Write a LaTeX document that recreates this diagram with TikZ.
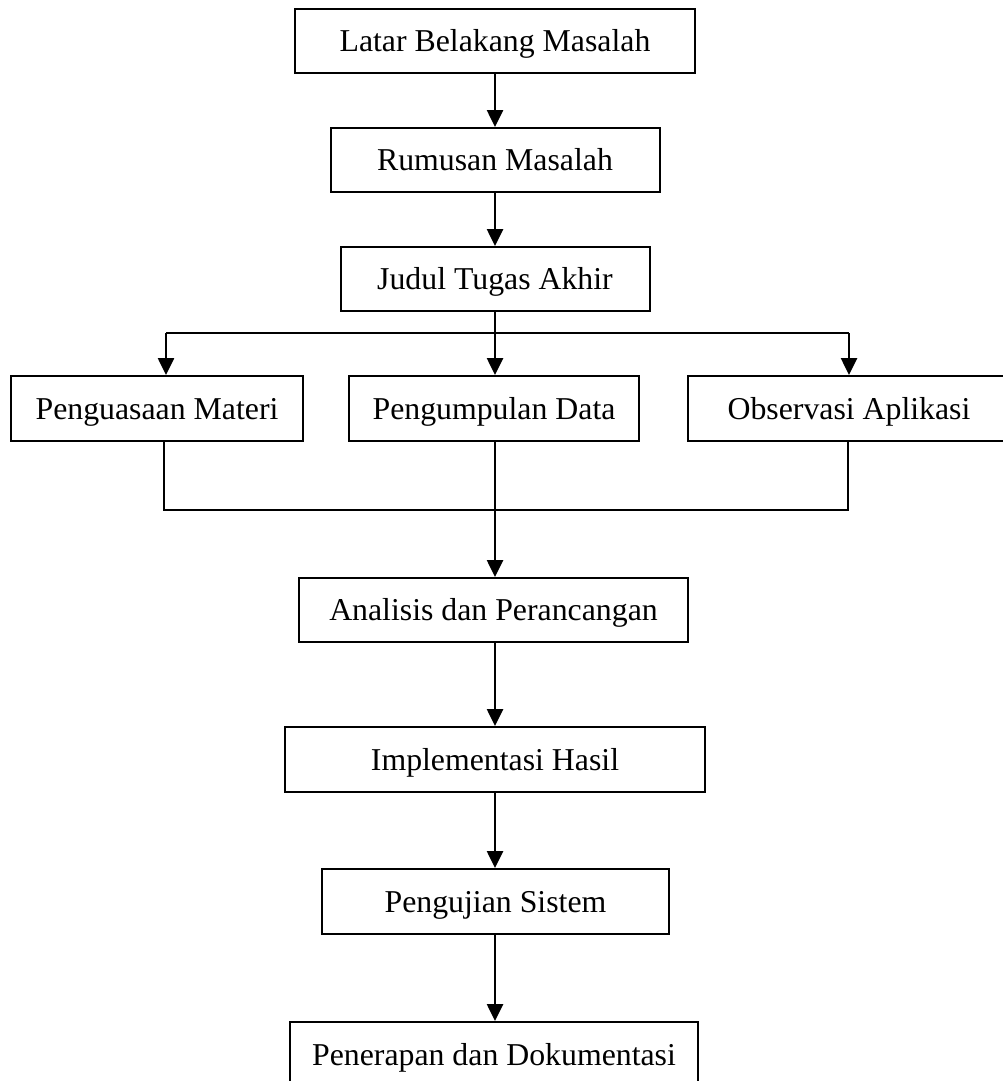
\documentclass[tikz,border=0pt]{standalone}
\usepackage{fontspec}
\setmainfont{Liberation Serif}
\usetikzlibrary{arrows.meta}
\begin{document}
\begin{tikzpicture}[x=1pt,y=-1pt,
  box/.style={draw, line width=2pt, inner sep=0pt, minimum height=64pt,
    font=\fontsize{31.8}{38}\selectfont, text height=21pt, text depth=0pt},
  conn/.style={line width=2.6pt},
  arr/.style={conn, -{Triangle[length=17pt,width=16pt]}}]
\clip (0,0) rectangle (1003,1081);
\fill[white] (0,0) rectangle (1003,1081);
\node[box, minimum width=400pt] (latar) at (495,41) {Latar Belakang Masalah};
\node[box, minimum width=329pt] (rumusan) at (495,160) {Rumusan Masalah};
\node[box, minimum width=309pt] (judul) at (495,279) {Judul Tugas Akhir};
\node[box, minimum width=292pt, minimum height=65pt] (kuasa) at (157,408.5) {Penguasaan Materi};
\node[box, minimum width=290pt, minimum height=65pt] (kumpul) at (494,408.5) {Pengumpulan Data};
\node[box, minimum width=322pt, minimum height=65pt] (obs) at (849,408.5) {Observasi Aplikasi};
\node[box, minimum width=389pt] (analisis) at (493.5,610) {Analisis dan Perancangan};
\node[box, minimum width=420pt, minimum height=65pt] (impl) at (495,759.5) {Implementasi Hasil};
\node[box, minimum width=347pt, minimum height=65pt] (uji) at (495.5,901.5) {Pengujian Sistem};
\node[box, minimum width=408pt, minimum height=66pt] (terap) at (494,1055) {Penerapan dan Dokumentasi};
\coordinate (bl) at (166,333);
\coordinate (br) at (849,333);
\coordinate (jl) at (164,510);
\coordinate (jr) at (848,510);
\draw[arr] (latar.south -| 495,0) -- (rumusan.north -| 495,0);
\draw[arr] (rumusan.south -| 495,0) -- (judul.north -| 495,0);
\draw[conn] (judul.south -| 495,0) -- (495,333);
\draw[conn] (bl) -- (br);
\draw[arr] (bl) -- (kuasa.north -| bl);
\draw[arr] (495,333) -- (kumpul.north -| 495,0);
\draw[arr] (br) -- (obs.north -| br);
\draw[conn] (kuasa.south -| jl) -- (jl) -- (jr) -- (obs.south -| jr);
\draw[arr] (kumpul.south -| 495,0) -- (analisis.north -| 495,0);
\draw[arr] (analisis.south -| 495,0) -- (impl.north -| 495,0);
\draw[arr] (impl.south -| 495,0) -- (uji.north -| 495,0);
\draw[arr] (uji.south -| 495,0) -- (terap.north -| 495,0);
\end{tikzpicture}
\end{document}
